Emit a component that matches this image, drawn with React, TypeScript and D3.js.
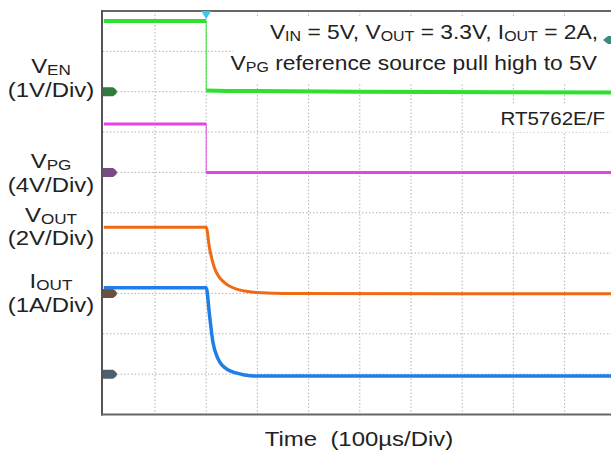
import React from "react";
import * as d3 from "d3";

// ---- Data (time in µs, trigger at 0) ----
const enBeforeT = [-200, 0];
const enBeforeV = [1.75, 1.75];
const enAfterT = [0, 40, 300, 800];
const enAfterV = [0.03, 0.02, 0.0, -0.02];

const pgBeforeT = [-200, 0];
const pgBeforeV = [4.8, 4.8];
const pgAfterT = [0, 800];
const pgAfterV = [-0.02, -0.02];

const voutT = [-200, 0, 6.4, 16.2, 25, 35.7, 48, 61, 75, 88.5, 110, 135, 160, 800];
const voutV = [3.28, 3.28, 2.26, 1.26, 0.82, 0.54, 0.33, 0.2, 0.12, 0.07, 0.03, 0.01, 0.0, -0.02];

const ioutT = [-200, 0, 6.4, 12.9, 22.7, 32, 42.2, 58, 74.8, 95, 800];
const ioutV = [2.14, 2.14, 1.47, 0.81, 0.39, 0.21, 0.11, 0.03, -0.02, -0.045, -0.045];

const xDomain = [-200, 800];
const yDivs = [0, 10];
const channelMarkerDiv = { en: 2, pg: 4, vout: 7, iout: 9 };
const channelScale = { en: 1, pg: 4, vout: 2, iout: 1 };

const W = 611;
const H = 453;
const STRETCH = 1.14;

export default function App() {
  const x = d3.scaleLinear().domain(xDomain).range([103.8, 615.8]);
  const yd = d3.scaleLinear().domain(yDivs).range([11, 414.5]);
  const yCh = (ch: keyof typeof channelMarkerDiv) => (v: number) =>
    yd(channelMarkerDiv[ch] - v / channelScale[ch]);

  const mkLine = (ch: keyof typeof channelMarkerDiv, ts: number[], vs: number[], curve = d3.curveLinear) => {
    const fy = yCh(ch);
    return d3
      .line<number>()
      .x((_, i) => x(ts[i]))
      .y((_, i) => fy(vs[i]))
      .curve(curve)(ts) as string;
  };

  const gridX = d3.range(1, 10).map((k) => x(xDomain[0] + k * 100));
  const gridY = d3.range(1, 10).map((k) => yd(k));

  const marker = (ch: keyof typeof channelMarkerDiv, color: string) => {
    const cy = yd(channelMarkerDiv[ch]);
    const x0 = 103;
    return (
      <path
        d={`M${x0},${cy - 4.5} L${x0 + 10},${cy - 4.5} Q${x0 + 14},${cy - 2} ${x0 + 14},${cy} Q${x0 + 14},${cy + 2} ${x0 + 10},${cy + 4.5} L${x0},${cy + 4.5} Z`}
        fill={color}
      />
    );
  };

  const green = "#2fe02f";
  const magenta = "#e444e4";
  const orange = "#ee6a14";
  const blue = "#1f7fe6";

  const font = "'Liberation Sans', Arial, sans-serif";
  const t0 = x(0);

  const labelSize = 21;
  const subSize = 15;

  const leftLabel = (main: string, sub: string, scale: string, y1: number, y2: number) => (
    <g fontFamily={font} fill="#222" textAnchor="middle">
      <text transform={`translate(51,${y1}) scale(${STRETCH},1)`} fontSize={labelSize}>
        {main}
        <tspan fontSize={subSize} dy={2}>{sub}</tspan>
      </text>
      <text transform={`translate(51,${y2}) scale(${STRETCH},1)`} fontSize={labelSize}>{scale}</text>
    </g>
  );

  return (
    <svg
      width={W}
      height={H}
      style={{ position: "absolute", left: 0, top: 0, background: "#fff" }}
    >
      <rect x={0} y={0} width={W} height={H} fill="#fff" />
      {/* grid */}
      <g stroke="#b4b4b4" strokeWidth={1} strokeDasharray="1.5,2">
        {gridX.map((gx, i) => (
          <line key={"gx" + i} x1={gx} x2={gx} y1={11} y2={414.5} />
        ))}
        {gridY.map((gy, i) => (
          <line key={"gy" + i} x1={103} x2={W} y1={gy} y2={gy} />
        ))}
      </g>
      {/* annotation boxes */}
      <rect x={233} y={17} width={W - 233} height={67} fill="#fff" opacity={0.92} />
      <rect x={494} y={104} width={W - 494} height={28} fill="#fff" opacity={0.92} />
      {/* frame */}
      <line x1={102} x2={W} y1={11} y2={11} stroke="#666" strokeWidth={2} />
      <line x1={102} x2={102} y1={10} y2={415.5} stroke="#555" strokeWidth={2} />
      <line x1={101} x2={W} y1={414.5} y2={414.5} stroke="#666" strokeWidth={2} />

      {/* markers */}
      {marker("en", "#2f7a3c")}
      {marker("pg", "#7a4a86")}
      {marker("vout", "#6a5040")}
      {marker("iout", "#4e5f70")}

      {/* traces */}
      <path d={mkLine("en", enBeforeT, enBeforeV)} stroke={green} strokeWidth={4} fill="none" />
      <line x1={t0} x2={t0} y1={yCh("en")(enBeforeV[1])} y2={yCh("en")(enAfterV[0])} stroke={green} strokeWidth={1} />
      <path d={mkLine("en", enAfterT, enAfterV)} stroke={green} strokeWidth={4} fill="none" />

      <path d={mkLine("pg", pgBeforeT, pgBeforeV)} stroke={magenta} strokeWidth={3} fill="none" />
      <line x1={t0} x2={t0} y1={yCh("pg")(pgBeforeV[1])} y2={yCh("pg")(pgAfterV[0])} stroke={magenta} strokeWidth={1} />
      <path d={mkLine("pg", pgAfterT, pgAfterV)} stroke={magenta} strokeWidth={3} fill="none" />

      <path d={mkLine("vout", voutT, voutV, d3.curveMonotoneX)} stroke={orange} strokeWidth={3} fill="none" />
      <path d={mkLine("iout", ioutT, ioutV, d3.curveMonotoneX)} stroke={blue} strokeWidth={3.5} fill="none" />

      {/* trigger marker */}
      <path d={`M${t0 - 5},${11} L${t0 + 5},${11} L${t0},${19} Z`} fill="#36c8ee" />
      {/* trigger level marker at right */}
      <path d={`M${603},${40} L${608},${36} L${W},${36} L${W},${44} L${608},${44} Z`} fill="#3a8a7e" />

      {/* annotation text */}
      <g fontFamily={font} fill="#222" fontSize={20} textAnchor="end">
        <text transform={`translate(598,39) scale(${STRETCH},1)`}>
          V<tspan fontSize={14} dy={2}>IN</tspan>
          <tspan dy={-2}> = 5V, V</tspan>
          <tspan fontSize={14} dy={2}>OUT</tspan>
          <tspan dy={-2}> = 3.3V, I</tspan>
          <tspan fontSize={14} dy={2}>OUT</tspan>
          <tspan dy={-2}> = 2A,</tspan>
        </text>
        <text transform={`translate(597,70) scale(${STRETCH},1)`}>
          V<tspan fontSize={14} dy={2}>PG</tspan>
          <tspan dy={-2}> reference source pull high to 5V</tspan>
        </text>
        <text transform={`translate(605,125) scale(${STRETCH},1)`} fontSize={18}>RT5762E/F</text>
      </g>

      {/* left labels */}
      {leftLabel("V", "EN", "(1V/Div)", 73, 97)}
      {leftLabel("V", "PG", "(4V/Div)", 168, 192)}
      {leftLabel("V", "OUT", "(2V/Div)", 222, 245)}
      {leftLabel("I", "OUT", "(1A/Div)", 288, 312)}

      {/* x label */}
      <text
        transform={`translate(359,446) scale(${STRETCH},1)`}
        fontFamily={font}
        fontSize={21}
        fill="#222"
        textAnchor="middle"
      >
        {"Time\u00A0\u00A0(100µs/Div)"}
      </text>
    </svg>
  );
}
